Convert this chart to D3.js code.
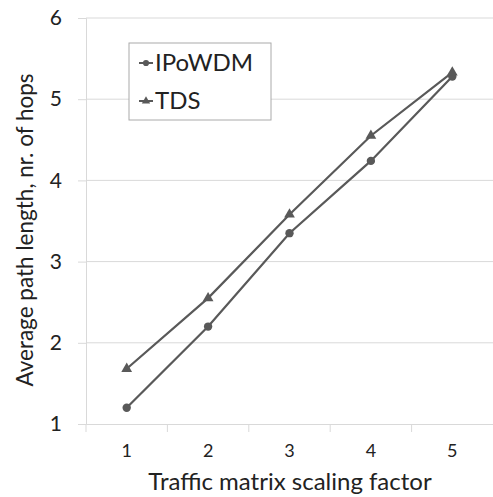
<!DOCTYPE html>
<html>
<head>
<meta charset="utf-8">
<script src="https://cdn.jsdelivr.net/npm/d3@7"></script>
<style>
  body { margin: 0; background: #fff; }
  svg text { font-family: Lato, "Open Sans", sans-serif; fill: #222; }
</style>
</head>
<body>
<div id="chart"></div>
<script>
const categories = [1, 2, 3, 4, 5];
const ipowdm = [1.2, 2.2, 3.35, 4.24, 5.28];
const tds = [1.68, 2.55, 3.58, 4.55, 5.33];
const yTicks = [1, 2, 3, 4, 5, 6];
const seriesNames = ['IPoWDM', 'TDS'];

const width = 493;
const height = 497;
const margin = { top: 18, right: 0, bottom: 73, left: 86 };

const svg = d3
  .select('#chart')
  .append('svg')
  .attr('width', width)
  .attr('height', height);

const x = d3
  .scaleBand()
  .domain(categories)
  .range([margin.left, width - margin.right]);

const y = d3
  .scaleLinear()
  .domain([1, 6])
  .range([height - margin.bottom, margin.top]);

const cx = d => x(d) + x.bandwidth() / 2;

// gridlines
svg
  .append('g')
  .selectAll('line')
  .data(yTicks.slice(1))
  .enter()
  .append('line')
  .attr('x1', margin.left)
  .attr('x2', width - margin.right)
  .attr('y1', d => y(d))
  .attr('y2', d => y(d))
  .attr('stroke', '#d9d9d9')
  .attr('stroke-width', 1);

// y axis
const yAxis = d3
  .axisLeft(y)
  .tickValues(yTicks)
  .tickFormat(d3.format('d'))
  .tickSize(8)
  .tickPadding(16);
const yg = svg
  .append('g')
  .attr('transform', `translate(${margin.left},0)`)
  .call(yAxis);
yg.select('.domain').attr('stroke', '#d9d9d9');
yg.selectAll('.tick line').attr('stroke', '#d9d9d9');
yg.selectAll('text').style('font-size', '21px').attr('fill', '#222');

// x axis
const xAxis = d3.axisBottom(x).tickSize(0).tickPadding(20);
const xg = svg
  .append('g')
  .attr('transform', `translate(0,${y(1)})`)
  .call(xAxis);
xg.select('.domain').attr('stroke', '#d9d9d9');
xg.selectAll('text').style('font-size', '18px').attr('fill', '#222');
xg.selectAll('.bnd')
  .data(categories)
  .enter()
  .append('line')
  .attr('x1', d => x(d))
  .attr('x2', d => x(d))
  .attr('y1', 0)
  .attr('y2', 8)
  .attr('stroke', '#d9d9d9');

// axis titles
svg
  .append('text')
  .attr('x', 290)
  .attr('y', 490)
  .attr('text-anchor', 'middle')
  .style('font-size', '24px')
  .text('Traffic matrix scaling factor');

svg
  .append('text')
  .attr('transform', 'translate(33,230) rotate(-90)')
  .attr('text-anchor', 'middle')
  .style('font-size', '22.5px')
  .text('Average path length, nr. of hops');

// lines
const line = d3
  .line()
  .x((d, i) => cx(categories[i]))
  .y(d => y(d));

const lineColor = '#595959';

[ipowdm, tds].forEach(s => {
  svg
    .append('path')
    .datum(s)
    .attr('d', line)
    .attr('fill', 'none')
    .attr('stroke', lineColor)
    .attr('stroke-width', 2.2);
});

const circle = d3.symbol().type(d3.symbolCircle).size(55);
const tri = d3.symbol().type(d3.symbolTriangle).size(50);

svg
  .append('g')
  .selectAll('path')
  .data(ipowdm)
  .enter()
  .append('path')
  .attr('d', circle)
  .attr('transform', (d, i) => `translate(${cx(categories[i])},${y(d)})`)
  .attr('fill', lineColor);

svg
  .append('g')
  .selectAll('path')
  .data(tds)
  .enter()
  .append('path')
  .attr('d', tri)
  .attr('transform', (d, i) => `translate(${cx(categories[i])},${y(d)})`)
  .attr('fill', lineColor);

// legend
const legend = svg.append('g').attr('transform', 'translate(129,43)');
legend
  .append('rect')
  .attr('width', 142)
  .attr('height', 77)
  .attr('fill', '#fff')
  .attr('stroke', '#aaa')
  .attr('stroke-width', 1);

const markers = [
  d3.symbol().type(d3.symbolCircle).size(30),
  d3.symbol().type(d3.symbolTriangle).size(30)
];
seriesNames.forEach((name, i) => {
  const row = legend.append('g').attr('transform', `translate(0,${20 + i * 38})`);
  row
    .append('line')
    .attr('x1', 10)
    .attr('x2', 24)
    .attr('y1', 0)
    .attr('y2', 0)
    .attr('stroke', lineColor)
    .attr('stroke-width', 2);
  row
    .append('path')
    .attr('d', markers[i]())
    .attr('transform', 'translate(17,0)')
    .attr('fill', lineColor);
  row
    .append('text')
    .attr('x', 26)
    .attr('y', 8)
    .style('font-size', '24px')
    .text(name);
});
</script>
</body>
</html>
